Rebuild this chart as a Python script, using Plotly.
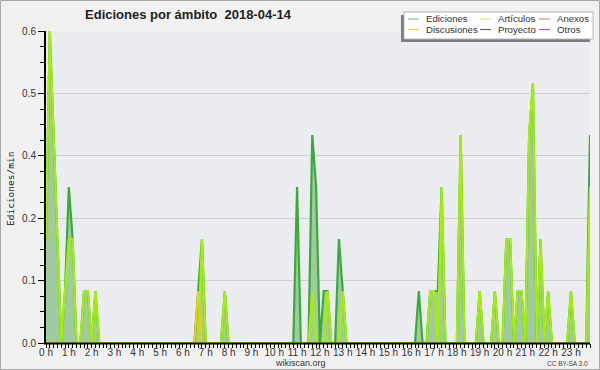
import plotly.graph_objects as go

# ---- data: edits per minute, 10-minute bins (144 bins, 0 h .. 23 h 50) ----
hour_labels = [f"{h} h" for h in range(24)]
bin_hours = [i / 6 for i in range(144)]

ediciones = [
    0.2, 0.6, 0.4, 0.2, 0, 0.1, 0.3, 0.2, 0, 0, 0.1, 0.1,
    0, 0.1, 0, 0, 0, 0, 0, 0, 0, 0, 0, 0,
    0, 0, 0, 0, 0, 0, 0, 0, 0, 0, 0, 0,
    0, 0, 0, 0, 0.1, 0.2, 0, 0, 0, 0, 0, 0.1,
    0, 0, 0, 0, 0, 0, 0, 0, 0, 0, 0, 0,
    0, 0, 0, 0, 0, 0, 0.3, 0, 0, 0, 0.4, 0.3,
    0, 0.1, 0.1, 0, 0, 0.2, 0.1, 0, 0, 0, 0, 0,
    0, 0, 0, 0, 0, 0, 0, 0, 0, 0, 0, 0,
    0, 0, 0.1, 0, 0, 0.1, 0.1, 0.1, 0.3, 0, 0, 0,
    0, 0.4, 0, 0, 0, 0, 0.1, 0, 0, 0, 0.1, 0,
    0, 0.2, 0.2, 0, 0.1, 0.1, 0, 0.4, 0.5, 0, 0.2, 0,
    0.1, 0, 0, 0, 0, 0, 0.1, 0, 0, 0, 0, 0.4,
]
articulos = [
    0.2, 0.6, 0.4, 0.2, 0, 0.1, 0.2, 0.2, 0, 0, 0.1, 0.1,
    0, 0.1, 0, 0, 0, 0, 0, 0, 0, 0, 0, 0,
    0, 0, 0, 0, 0, 0, 0, 0, 0, 0, 0, 0,
    0, 0, 0, 0, 0, 0.2, 0, 0, 0, 0, 0, 0.1,
    0, 0, 0, 0, 0, 0, 0, 0, 0, 0, 0, 0,
    0, 0, 0, 0, 0, 0, 0, 0, 0, 0, 0.1, 0,
    0, 0, 0.1, 0, 0, 0, 0.1, 0, 0, 0, 0, 0,
    0, 0, 0, 0, 0, 0, 0, 0, 0, 0, 0, 0,
    0, 0, 0, 0, 0, 0.1, 0.1, 0, 0.3, 0, 0, 0,
    0, 0.4, 0, 0, 0, 0, 0.1, 0, 0, 0, 0.1, 0,
    0, 0.2, 0.2, 0, 0.1, 0.1, 0, 0.4, 0.5, 0, 0.2, 0,
    0.1, 0, 0, 0, 0, 0, 0.1, 0, 0, 0, 0, 0.3,
]
anexos = [
    0, 0, 0, 0, 0, 0, 0, 0, 0, 0, 0, 0,
    0, 0, 0, 0, 0, 0, 0, 0, 0, 0, 0, 0,
    0, 0, 0, 0, 0, 0, 0, 0, 0, 0, 0, 0,
    0, 0, 0, 0, 0.1, 0, 0, 0, 0, 0, 0, 0,
    0, 0, 0, 0, 0, 0, 0, 0, 0, 0, 0, 0,
    0, 0, 0, 0, 0, 0, 0, 0, 0, 0, 0, 0,
    0, 0, 0, 0, 0, 0, 0, 0, 0, 0, 0, 0,
    0, 0, 0, 0, 0, 0, 0, 0, 0, 0, 0, 0,
    0, 0, 0, 0, 0, 0, 0, 0, 0, 0, 0, 0,
    0, 0, 0, 0, 0, 0, 0, 0, 0, 0, 0, 0,
    0, 0, 0, 0, 0, 0, 0, 0, 0, 0, 0, 0,
    0, 0, 0, 0, 0, 0, 0, 0, 0, 0, 0, 0,
]
discusiones = [
    0, 0, 0, 0, 0, 0, 0, 0, 0, 0, 0, 0,
    0, 0, 0, 0, 0, 0, 0, 0, 0, 0, 0, 0,
    0, 0, 0, 0, 0, 0, 0, 0, 0, 0, 0, 0,
    0, 0, 0, 0, 0.1, 0, 0, 0, 0, 0, 0, 0,
    0, 0, 0, 0, 0, 0, 0, 0, 0, 0, 0, 0,
    0, 0, 0, 0, 0, 0, 0, 0, 0, 0, 0, 0,
    0, 0, 0, 0, 0, 0, 0, 0, 0, 0, 0, 0,
    0, 0, 0, 0, 0, 0, 0, 0, 0, 0, 0, 0,
    0, 0, 0, 0, 0, 0, 0, 0, 0, 0, 0, 0,
    0, 0, 0, 0, 0, 0, 0, 0, 0, 0, 0, 0,
    0, 0, 0, 0, 0, 0, 0, 0, 0, 0, 0, 0,
    0, 0, 0, 0, 0, 0, 0, 0, 0, 0, 0, 0,
]
proyecto = [
    0, 0, 0, 0, 0, 0, 0, 0, 0, 0, 0, 0,
    0, 0, 0, 0, 0, 0, 0, 0, 0, 0, 0, 0,
    0, 0, 0, 0, 0, 0, 0, 0, 0, 0, 0, 0,
    0, 0, 0, 0, 0, 0, 0, 0, 0, 0, 0, 0,
    0, 0, 0, 0, 0, 0, 0, 0, 0, 0, 0, 0,
    0, 0, 0, 0, 0, 0, 0, 0, 0, 0, 0, 0,
    0, 0, 0, 0, 0, 0, 0, 0, 0, 0, 0, 0,
    0, 0, 0, 0, 0, 0, 0, 0, 0, 0, 0, 0,
    0, 0, 0, 0, 0, 0, 0, 0, 0, 0, 0, 0,
    0, 0, 0, 0, 0, 0, 0, 0, 0, 0, 0, 0,
    0, 0, 0, 0, 0, 0, 0, 0, 0, 0, 0, 0,
    0, 0, 0, 0, 0, 0, 0, 0, 0, 0, 0, 0,
]
otros = [
    0, 0, 0, 0, 0, 0, 0, 0, 0, 0, 0, 0,
    0, 0, 0, 0, 0, 0, 0, 0, 0, 0, 0, 0,
    0, 0, 0, 0, 0, 0, 0, 0, 0, 0, 0, 0,
    0, 0, 0, 0, 0, 0, 0, 0, 0, 0, 0, 0,
    0, 0, 0, 0, 0, 0, 0, 0, 0, 0, 0, 0,
    0, 0, 0, 0, 0, 0, 0, 0, 0, 0, 0, 0,
    0, 0, 0, 0, 0, 0, 0, 0, 0, 0, 0, 0,
    0, 0, 0, 0, 0, 0, 0, 0, 0, 0, 0, 0,
    0, 0, 0, 0, 0, 0, 0, 0, 0, 0, 0, 0,
    0, 0, 0, 0, 0, 0, 0, 0, 0, 0, 0, 0,
    0, 0, 0, 0, 0, 0, 0, 0, 0, 0, 0, 0,
    0, 0, 0, 0, 0, 0, 0, 0, 0, 0, 0, 0,
]

y_tickvals = [0, 0.12, 0.24, 0.36, 0.48, 0.6]
y_ticktext = ["0.0", "0.1", "0.2", "0.4", "0.5", "0.6"]

series_names = ["Ediciones", "Artículos", "Anexos", "Discusiones", "Proyecto", "Otros"]
line_colors = ["#3aaa3a", "#a6ee0a", "#ff8833", "#ffcc22", "#555555", "#9933ff"]
legend_colors = ["#88cc88", "#ccee66", "#f08850", "#f8cc44", "#666666", "#a050f0"]

# ---- figure ----
W, H = 600, 370
ML, MR, MT, MB = 46, 10, 31, 27
PW, PH = W - ML - MR, H - MT - MB


def px(x):
    return (x - ML) / PW


def py(y):
    return (H - MB - y) / PH


fig = go.Figure()
# drawing order: Otros, Proyecto (under), Ediciones area, Anexos, Discusiones, Artículos (top)
fig.add_trace(go.Scatter(x=bin_hours, y=otros, name=series_names[5], mode="lines",
                         line=dict(color=line_colors[5], width=1.5)))
fig.add_trace(go.Scatter(x=bin_hours, y=proyecto, name=series_names[4], mode="lines",
                         line=dict(color=line_colors[4], width=1.5)))
fig.add_trace(go.Scatter(x=bin_hours, y=ediciones, name=series_names[0], mode="lines",
                         line=dict(color=line_colors[0], width=2.2),
                         fill="tozeroy", fillcolor="#a0cba0"))
fig.add_trace(go.Scatter(x=bin_hours, y=anexos, name=series_names[2], mode="lines",
                         line=dict(color=line_colors[2], width=1.6)))
fig.add_trace(go.Scatter(x=bin_hours, y=discusiones, name=series_names[3], mode="lines",
                         line=dict(color=line_colors[3], width=1.6)))
fig.add_trace(go.Scatter(x=bin_hours, y=articulos, name=series_names[1], mode="lines",
                         line=dict(color=line_colors[1], width=2.2)))

tick_font = dict(family="Liberation Sans, Arial, sans-serif", size=10, color="#333333")

fig.update_layout(
    width=W, height=H,
    margin=dict(l=ML, r=MR, t=MT, b=MB, pad=0),
    paper_bgcolor="#f1f1f1",
    plot_bgcolor="#ecedf0",
    showlegend=False,
    title=dict(
        text="Ediciones por ámbito \u00a02018-04-14",
        font=dict(family="Liberation Sans, Arial, sans-serif", size=13, color="#222222", weight="bold"),
        xref="container", yref="container",
        x=188 / W, xanchor="center", y=1 - 14 / H, yanchor="middle",
    ),
    xaxis=dict(
        range=[0, bin_hours[-1]],
        tickmode="array",
        tickvals=list(range(24)),
        ticktext=hour_labels,
        ticks="outside", ticklen=4, tickwidth=1, tickcolor="#000000",
        minor=dict(tickmode="linear", tick0=0, dtick=1 / 6, ticks="outside",
                   ticklen=4, tickwidth=1, tickcolor="#000000", showgrid=False),
        showline=False,
        showgrid=False, zeroline=False,
        tickfont=tick_font,
        ticklabelstandoff=-4,
        fixedrange=True,
    ),
    yaxis=dict(
        range=[0, 0.6],
        tickmode="array",
        tickvals=y_tickvals,
        ticktext=y_ticktext,
        ticks="outside", ticklen=6, tickwidth=1, tickcolor="#000000",
        minor=dict(tickmode="linear", tick0=0, dtick=0.03, ticks="outside",
                   ticklen=4, tickwidth=1, tickcolor="#000000", showgrid=False),
        showline=True, linecolor="#000000", linewidth=2,
        showgrid=True, gridcolor="#cfcfcf", gridwidth=1,
        zeroline=False,
        tickfont=tick_font,
        fixedrange=True,
    ),
)

shapes = []
annotations = []

# x axis base line (drawn over the zero-level lines)
shapes.append(dict(type="line", xref="paper", yref="paper",
                   x0=px(44), x1=px(590), y0=py(343.5), y1=py(343.5),
                   line=dict(color="#000000", width=2.2), layer="above"))

# outer border
shapes.append(dict(type="rect", xref="paper", yref="paper",
                   x0=px(0.5), x1=px(W - 0.5), y0=py(H - 0.5), y1=py(0.5),
                   line=dict(color="#a8a8a8", width=1), fillcolor="rgba(0,0,0,0)", layer="above"))

# legend box with shadow
shapes.append(dict(type="rect", xref="paper", yref="paper",
                   x0=px(401), x1=px(590), y0=py(42), y1=py(15),
                   line=dict(width=0), fillcolor="#7c7c7c", layer="above"))
shapes.append(dict(type="rect", xref="paper", yref="paper",
                   x0=px(404), x1=px(593), y0=py(39), y1=py(12),
                   line=dict(color="#b4b4b4", width=1), fillcolor="#ffffff", layer="above"))

legend_layout = [(0, 408, 424, 19), (1, 480, 496, 19), (2, 539, 555, 19),
                 (3, 408, 424, 29.5), (4, 480, 496, 29.5), (5, 539, 555, 29.5)]
for k, lx, tx, ly in legend_layout:
    shapes.append(dict(type="line", xref="paper", yref="paper",
                       x0=px(lx), x1=px(lx + 11), y0=py(ly), y1=py(ly),
                       line=dict(color=legend_colors[k], width=1.2), layer="above"))
    annotations.append(dict(text=series_names[k], xref="paper", yref="paper",
                            x=px(tx), y=py(ly), xanchor="left", yanchor="middle",
                            showarrow=False,
                            font=dict(family="Liberation Sans, Arial, sans-serif", size=9.6, color="#333333")))

# axis title
annotations.append(dict(text="Ediciones/min", xref="paper", yref="paper",
                        x=px(10), y=py(189), xanchor="center", yanchor="middle",
                        textangle=-90, showarrow=False,
                        font=dict(family="DejaVu Sans Mono, monospace", size=9.5, color="#222222")))
# footer texts
annotations.append(dict(text="wikiscan.org", xref="paper", yref="paper",
                        x=px(300), y=py(363), xanchor="center", yanchor="middle",
                        showarrow=False,
                        font=dict(family="Liberation Sans, Arial, sans-serif", size=9, color="#333333")))
annotations.append(dict(text="CC BY-SA 3.0", xref="paper", yref="paper",
                        x=px(590), y=py(363), xanchor="right", yanchor="middle",
                        showarrow=False,
                        font=dict(family="Liberation Sans, Arial, sans-serif", size=6.5, color="#444444")))

fig.update_layout(shapes=shapes, annotations=annotations)

fig.write_html("out.html", include_plotlyjs=True, config={"displayModeBar": False},
               post_script="document.body.style.margin='0';document.body.style.overflow='hidden';")
